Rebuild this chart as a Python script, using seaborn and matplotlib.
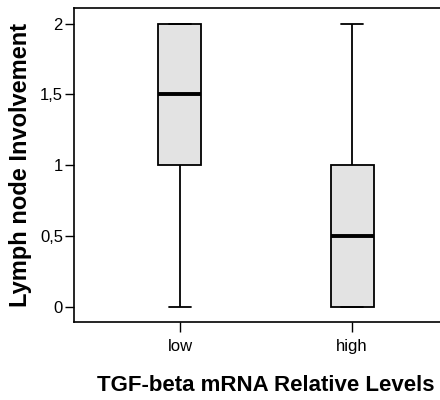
import pandas as pd
import matplotlib
matplotlib.use("Agg")
import matplotlib.pyplot as plt
import seaborn as sns

# observed lymph node involvement scores per group
low_vals = [0, 1, 1, 2, 2, 2]
high_vals = [0, 0, 0, 1, 1, 2]
groups = ["low", "high"]
yticks = [0, 0.5, 1, 1.5, 2]
ytick_labels = ["0", "0,5", "1", "1,5", "2"]

df = pd.DataFrame({
    "group": ["low"] * len(low_vals) + ["high"] * len(high_vals),
    "v": low_vals + high_vals,
})

sns.set_style("white")
plt.rcParams["font.family"] = ["Liberation Sans", "DejaVu Sans"]
plt.rcParams["text.color"] = "black"
plt.rcParams["axes.labelcolor"] = "black"
plt.rcParams["xtick.color"] = "black"
plt.rcParams["ytick.color"] = "black"

fig = plt.figure(figsize=(4.4, 4.0), dpi=100)
ax = fig.add_axes([74 / 440, 1 - 322 / 400, 384 / 440, 314 / 400])

sns.boxplot(data=df, x="group", y="v", order=groups, ax=ax, width=0.25,
            color="#e3e3e3", linecolor="black", linewidth=1.3, whis=1.5,
            saturation=1, showfliers=False,
            medianprops={"linewidth": 2.8, "color": "black"},
            capprops={"linewidth": 1.3}, boxprops={"facecolor": "#e3e3e3"})

ax.set_xlim(-0.616, 1.616)
ax.set_ylim(-0.105, 2.11)
ax.set_yticks(yticks)
ax.set_yticklabels(ytick_labels)

ax.tick_params(axis="y", which="both", left=True, length=6.5, width=1, labelsize=12, pad=1.5)
ax.tick_params(axis="x", which="both", bottom=True, length=7.5, width=1, labelsize=12, pad=5)

for s in ["left", "bottom", "top"]:
    ax.spines[s].set_color("black")
    ax.spines[s].set_linewidth(1.2)
ax.spines["right"].set_visible(False)

ax.set_xlabel("TGF-beta mRNA Relative Levels", fontsize=16, fontweight="bold", labelpad=15)
ax.set_ylabel("Lymph node Involvement", fontsize=17, fontweight="bold", labelpad=6)

fig.savefig("out.png", dpi=100)
